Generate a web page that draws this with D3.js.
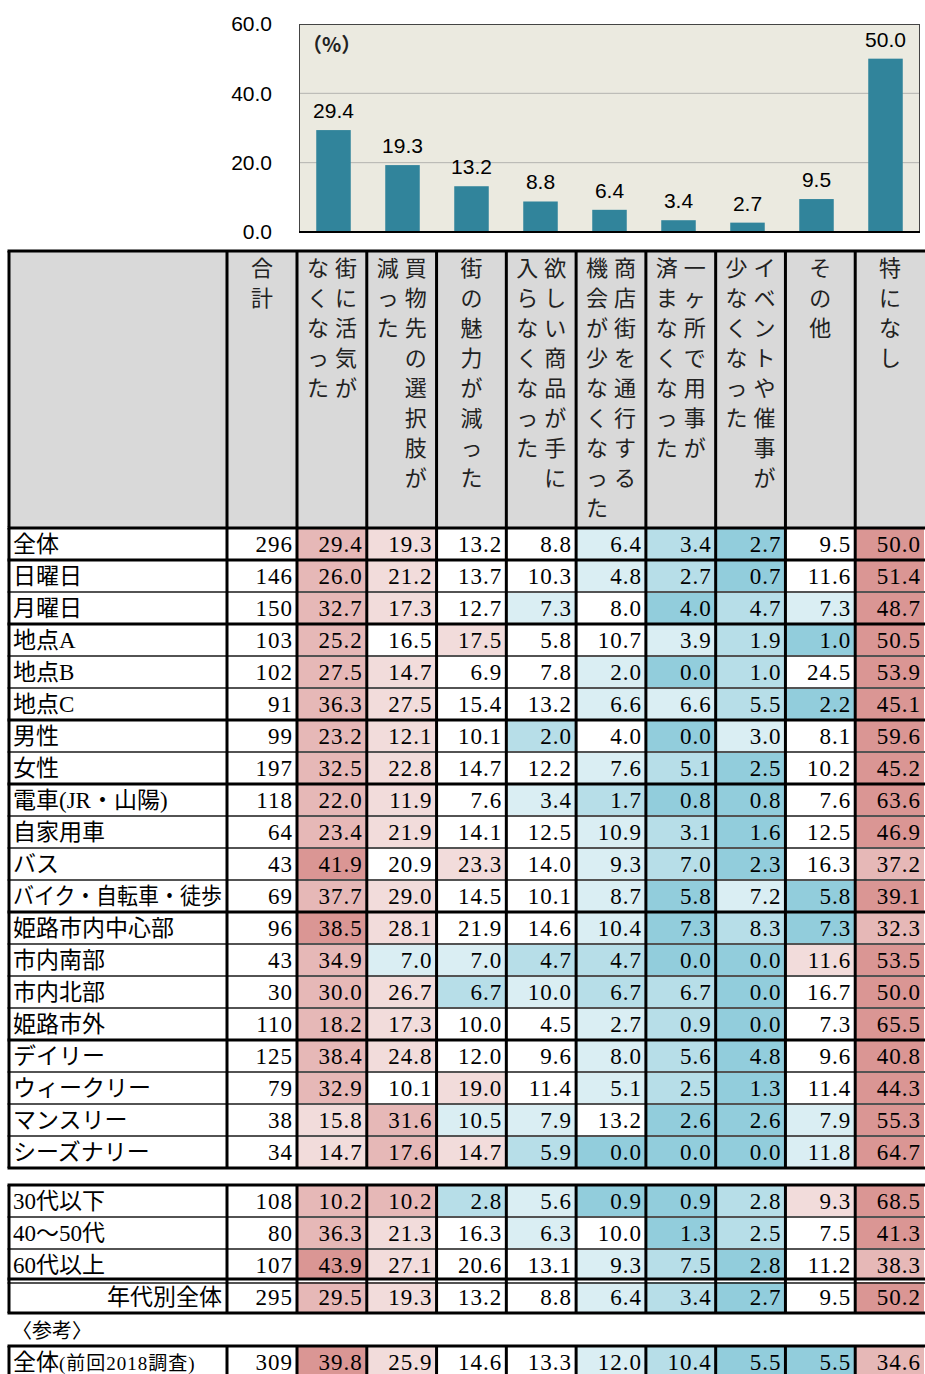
<!DOCTYPE html>
<html>
<head>
<meta charset="utf-8">
<script src="https://cdn.jsdelivr.net/npm/d3@7"></script>
<style>
body { margin: 0; background: #fff; }
svg { display: block; }
.chart-txt { font-family: "Liberation Sans Narrow", "Liberation Sans", sans-serif; fill: #000; }
.tbl-txt { font-family: "Liberation Serif", "Noto Sans CJK JP", serif; fill: #000; }
.hdr-txt { font-family: "Noto Sans CJK JP", sans-serif; fill: #222; }
</style>
</head>
<body>
<div id="main"></div>
<script>
// column categories (also x of the bar chart)
var categories = ["街に活気がなくなった", "買物先の選択肢が減った", "街の魅力が減った",
  "欲しい商品が手に入らなくなった", "商店街を通行する機会が少なくなった",
  "一ヶ所で用事が済まなくなった", "イベントや催事が少なくなった", "その他", "特になし"];
// header text, one entry per vertical line (right line first)
var headerLines = [["街に活気が", "なくなった"], ["買物先の選択肢が", "減った"], ["街の魅力が減った"],
  ["欲しい商品が手に", "入らなくなった"], ["商店街を通行する", "機会が少なくなった"],
  ["一ヶ所で用事が", "済まなくなった"], ["イベントや催事が", "少なくなった"], ["その他"], ["特になし"]];
var yTicks = [0, 20, 40, 60];

var mainLabels = ["全体", "日曜日", "月曜日", "地点A", "地点B", "地点C", "男性", "女性",
  "電車(JR・山陽)", "自家用車", "バス", "バイク・自転車・徒歩", "姫路市内中心部", "市内南部",
  "市内北部", "姫路市外", "デイリー", "ウィークリー", "マンスリー", "シーズナリー"];
var mainTotals = [296, 146, 150, 103, 102, 91, 99, 197, 118, 64, 43, 69, 96, 43, 30, 110, 125, 79, 38, 34];
var mainValues = [
  [29.4, 19.3, 13.2, 8.8, 6.4, 3.4, 2.7, 9.5, 50.0],
  [26.0, 21.2, 13.7, 10.3, 4.8, 2.7, 0.7, 11.6, 51.4],
  [32.7, 17.3, 12.7, 7.3, 8.0, 4.0, 4.7, 7.3, 48.7],
  [25.2, 16.5, 17.5, 5.8, 10.7, 3.9, 1.9, 1.0, 50.5],
  [27.5, 14.7, 6.9, 7.8, 2.0, 0.0, 1.0, 24.5, 53.9],
  [36.3, 27.5, 15.4, 13.2, 6.6, 6.6, 5.5, 2.2, 45.1],
  [23.2, 12.1, 10.1, 2.0, 4.0, 0.0, 3.0, 8.1, 59.6],
  [32.5, 22.8, 14.7, 12.2, 7.6, 5.1, 2.5, 10.2, 45.2],
  [22.0, 11.9, 7.6, 3.4, 1.7, 0.8, 0.8, 7.6, 63.6],
  [23.4, 21.9, 14.1, 12.5, 10.9, 3.1, 1.6, 12.5, 46.9],
  [41.9, 20.9, 23.3, 14.0, 9.3, 7.0, 2.3, 16.3, 37.2],
  [37.7, 29.0, 14.5, 10.1, 8.7, 5.8, 7.2, 5.8, 39.1],
  [38.5, 28.1, 21.9, 14.6, 10.4, 7.3, 8.3, 7.3, 32.3],
  [34.9, 7.0, 7.0, 4.7, 4.7, 0.0, 0.0, 11.6, 53.5],
  [30.0, 26.7, 6.7, 10.0, 6.7, 6.7, 0.0, 16.7, 50.0],
  [18.2, 17.3, 10.0, 4.5, 2.7, 0.9, 0.0, 7.3, 65.5],
  [38.4, 24.8, 12.0, 9.6, 8.0, 5.6, 4.8, 9.6, 40.8],
  [32.9, 10.1, 19.0, 11.4, 5.1, 2.5, 1.3, 11.4, 44.3],
  [15.8, 31.6, 10.5, 7.9, 13.2, 2.6, 2.6, 7.9, 55.3],
  [14.7, 17.6, 14.7, 5.9, 0.0, 0.0, 0.0, 11.8, 64.7]
];
// shading level of each cell (-3 low .. +3 high)
var mainShades = [
  [2, 1, 0, 0, -1, -2, -3, 0, 3],
  [2, 1, 0, 0, -1, -2, -3, 0, 3],
  [2, 1, 0, -1, 0, -3, -2, -1, 3],
  [2, 0, 1, 0, 0, -1, -2, -3, 3],
  [2, 1, 0, 0, -1, -3, -2, 0, 3],
  [2, 1, 0, 0, -1, -1, -2, -3, 3],
  [2, 1, 0, -2, 0, -3, -1, 0, 3],
  [2, 1, 0, 0, -1, -2, -3, 0, 3],
  [2, 1, 0, -1, -2, -3, -3, 0, 3],
  [2, 1, 0, 0, -1, -2, -3, 0, 3],
  [3, 0, 1, 0, -1, -2, -3, 0, 2],
  [2, 1, 0, 0, -1, -3, -1, -3, 3],
  [3, 1, 0, 0, -1, -3, -2, -3, 2],
  [2, -1, -1, -2, -2, -3, -3, 1, 3],
  [2, 1, -2, -1, -2, -2, -3, 0, 3],
  [2, 1, 0, 0, -1, -2, -3, 0, 3],
  [2, 1, 0, 0, -1, -2, -3, 0, 3],
  [2, 0, 1, 0, -1, -2, -3, 0, 3],
  [1, 2, -1, -1, 0, -3, -3, -1, 3],
  [1, 2, 1, -2, -3, -3, -3, -1, 3]
];
// rows that open a new group (thick rule above them)
var groupStarts = ["日曜日", "地点A", "男性", "電車(JR・山陽)", "姫路市内中心部", "デイリー"];

var ageLabels = ["30代以下", "40～50代", "60代以上", "年代別全体"];
var ageTotals = [108, 80, 107, 295];
var ageValues = [
  [10.2, 10.2, 2.8, 5.6, 0.9, 0.9, 2.8, 9.3, 68.5],
  [36.3, 21.3, 16.3, 6.3, 10.0, 1.3, 2.5, 7.5, 41.3],
  [43.9, 27.1, 20.6, 13.1, 9.3, 7.5, 2.8, 11.2, 38.3],
  [29.5, 19.3, 13.2, 8.8, 6.4, 3.4, 2.7, 9.5, 50.2]
];
var ageShades = [
  [2, 2, -2, -1, -3, -3, -2, 1, 3],
  [2, 1, 0, -1, 0, -3, -2, 0, 3],
  [3, 1, 0, 0, -1, -2, -3, 0, 2],
  [2, 1, 0, 0, -1, -2, -3, 0, 3]
];

var refLabels = ["全体"];
var refNote = "(前回2018調査)";
var refTotals = [309];
var refValues = [[39.8, 25.9, 14.6, 13.3, 12.0, 10.4, 5.5, 5.5, 34.6]];
var refShades = [[3, 1, 0, 0, -1, -2, -3, -3, 2]];

// bar chart shows the 全体 row
var barValues = mainValues[0];

var W = 925, H = 1374;
var svg = d3.select("#main").append("svg").attr("width", W).attr("height", H);

var shadeColor = d3.scaleOrdinal()
  .domain([-3, -2, -1, 0, 1, 2, 3])
  .range(["#92cddc", "#b7dee8", "#daeef3", "#ffffff", "#f2dcdb", "#e6b8b7", "#da9694"]);
var fmt = d3.format(".1f");

// ---------- bar chart ----------
var barX = d3.scaleBand().domain(categories).range([299, 920]).paddingInner(0.5).paddingOuter(0.25);
var barY = d3.scaleLinear().domain([0, 60]).range([232, 24]);

var chartG = svg.append("g");
chartG.append("rect")
  .attr("x", 299).attr("y", barY(60))
  .attr("width", 920 - 299).attr("height", barY(0) - barY(60))
  .attr("fill", "#ebeae0");

chartG.selectAll(".grid")
  .data(yTicks.filter(d => d > 0 && d < 60))
  .enter().append("line")
  .attr("x1", 299).attr("x2", 920)
  .attr("y1", d => barY(d)).attr("y2", d => barY(d))
  .attr("stroke", "#b4b4b0").attr("stroke-width", 1);

chartG.append("rect")
  .attr("x", 299.5).attr("y", barY(60) + 0.5)
  .attr("width", 920 - 300).attr("height", barY(0) - barY(60))
  .attr("fill", "none").attr("stroke", "#444").attr("stroke-width", 1);

chartG.selectAll(".bar")
  .data(barValues)
  .enter().append("rect")
  .attr("x", (d, i) => barX(categories[i]))
  .attr("y", d => barY(d))
  .attr("width", barX.bandwidth())
  .attr("height", d => barY(0) - barY(d))
  .attr("fill", "#31849b");

chartG.selectAll(".bar-label")
  .data(barValues)
  .enter().append("text")
  .attr("class", "chart-txt")
  .attr("x", (d, i) => barX(categories[i]) + barX.bandwidth() / 2)
  .attr("y", d => barY(d) - 12)
  .attr("text-anchor", "middle")
  .style("font-size", "21px")
  .text(d => fmt(d));

chartG.append("line")
  .attr("x1", 299).attr("x2", 920)
  .attr("y1", barY(0)).attr("y2", barY(0))
  .attr("stroke", "#000").attr("stroke-width", 2);

var yAxis = chartG.append("g")
  .attr("transform", "translate(299,0)")
  .call(d3.axisLeft(barY).tickValues(yTicks).tickFormat(fmt).tickSize(0).tickPadding(27));
yAxis.select(".domain").remove();
yAxis.selectAll("text")
  .attr("class", "chart-txt")
  .style("font-size", "21px")
  .attr("fill", "#000");

chartG.append("text")
  .attr("class", "hdr-txt")
  .attr("x", 302).attr("y", 52)
  .style("font-size", "20px")
  .style("font-weight", "bold")
  .attr("fill", "#000")
  .text("（%）");

// ---------- table ----------
var xLeft = 9, xTotal = 227, xData = 297, xRight = 925;
var colX = d3.scaleBand().domain(categories).range([xData, xRight]);
var rowH = 32;
var vLines = [xLeft, xTotal, xData].concat(categories.slice(1).map(c => colX(c)));

var tbl = svg.append("g");

// header
var hTop = 251, hBot = 527;
tbl.append("rect")
  .attr("x", xLeft).attr("y", hTop)
  .attr("width", xRight - xLeft).attr("height", hBot - hTop)
  .attr("fill", "#d9d9d9");

function verticalText(g, str, cx, y0) {
  g.selectAll(null)
    .data(Array.from(str))
    .enter().append("text")
    .attr("class", "hdr-txt")
    .attr("x", cx)
    .attr("y", (d, i) => y0 + i * 30 + 8)
    .attr("text-anchor", "middle")
    .style("font-size", "22px")
    .text(d => d);
}
function hLine(y, thick) {
  tbl.append("line")
    .attr("x1", xLeft - 1.5).attr("x2", xRight)
    .attr("y1", y).attr("y2", y)
    .attr("stroke", thick ? "#000" : "#1a1a1a")
    .attr("stroke-width", thick ? 3 : 1.6);
}
function drawVLines(y1, y2) {
  tbl.selectAll(null)
    .data(vLines)
    .enter().append("line")
    .attr("x1", d => d).attr("x2", d => d)
    .attr("y1", y1).attr("y2", y2)
    .attr("stroke", "#000").attr("stroke-width", 3);
}

verticalText(tbl, "合計", (xTotal + xData) / 2, 268);
headerLines.forEach(function(lines, i) {
  var cx = colX(categories[i]) + colX.bandwidth() / 2;
  if (lines.length === 1) {
    verticalText(tbl, lines[0], cx, 268);
  } else {
    verticalText(tbl, lines[0], cx + 14, 268);
    verticalText(tbl, lines[1], cx - 14, 268);
  }
});
drawVLines(hTop, hBot);
hLine(hTop, true);

function drawBlock(labels, totals, values, shades, y0, opts) {
  opts = opts || {};
  var rowY = d3.scaleBand().domain(labels).range([y0, y0 + rowH * labels.length]);
  var g = tbl.append("g");
  var rows = g.selectAll(".row")
    .data(labels)
    .enter().append("g")
    .attr("transform", d => "translate(0," + rowY(d) + ")");

  rows.each(function(lab, r) {
    var row = d3.select(this);
    row.selectAll("rect")
      .data(values[r])
      .enter().append("rect")
      .attr("x", (d, i) => colX(categories[i]) + 1)
      .attr("y", 1)
      .attr("width", colX.bandwidth() - 2)
      .attr("height", rowY.bandwidth() - 2)
      .attr("fill", (d, i) => shadeColor(shades[r][i]));
    row.selectAll(".val")
      .data(values[r])
      .enter().append("text")
      .attr("class", "tbl-txt")
      .attr("x", (d, i) => colX(categories[i]) + colX.bandwidth() - 4)
      .attr("y", rowY.bandwidth() / 2 + 8)
      .attr("text-anchor", "end")
      .style("font-size", "23px")
      .style("letter-spacing", "1px")
      .text(d => fmt(d));
    row.append("text")
      .attr("class", "tbl-txt")
      .attr("x", xData - 4)
      .attr("y", rowY.bandwidth() / 2 + 8)
      .attr("text-anchor", "end")
      .style("font-size", "23px")
      .style("letter-spacing", "1px")
      .text(totals[r]);
    var right = opts.rightLabel && opts.rightLabel === lab;
    var t = row.append("text")
      .attr("class", "tbl-txt")
      .attr("x", right ? xTotal - 5 : xLeft + 4)
      .attr("y", rowY.bandwidth() / 2 + 8)
      .attr("text-anchor", right ? "end" : "start")
      .style("font-size", "23px")
      .text(lab);
    if (opts.note) {
      t.append("tspan").style("font-size", "19px").style("letter-spacing", "1px").text(opts.note);
    }
    // squeeze labels that would run past the label column
    var maxW = xTotal - xLeft - 9;
    if (t.node().getComputedTextLength() > maxW) {
      t.attr("textLength", maxW).attr("lengthAdjust", "spacingAndGlyphs");
    }
  });

  // horizontal rules
  labels.forEach(function(lab, r) {
    if (r === 0) return;
    var y = rowY(lab);
    if (opts.rightLabel === lab) {
      hLine(y - 2, true);
      hLine(y + 2, false);
    } else {
      hLine(y, groupStarts.indexOf(lab) >= 0);
    }
  });
  hLine(y0, true);
  var yEnd = y0 + rowH * labels.length;
  if (!opts.open) hLine(yEnd, true);
  drawVLines(y0, opts.open ? H : yEnd);
}

drawBlock(mainLabels, mainTotals, mainValues, mainShades, 528);
drawBlock(ageLabels, ageTotals, ageValues, ageShades, 1185, { rightLabel: "年代別全体" });

tbl.append("text")
  .attr("class", "tbl-txt")
  .attr("x", 12).attr("y", 1338)
  .style("font-size", "20px")
  .attr("fill", "#333")
  .text("〈参考〉");

drawBlock(refLabels, refTotals, refValues, refShades, 1346, { note: refNote, open: true });
</script>
</body>
</html>
